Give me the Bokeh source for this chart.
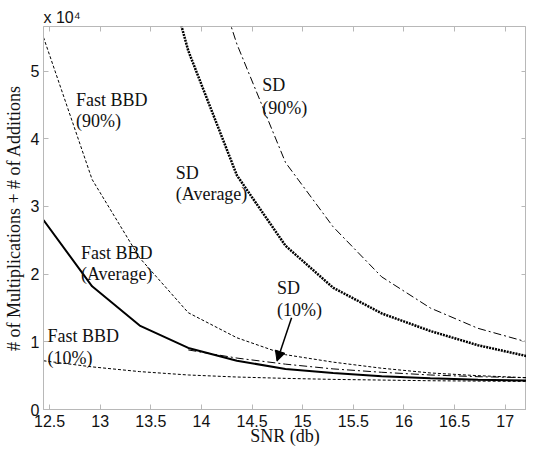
import numpy as np
from bokeh.plotting import figure
from bokeh.models import Range1d, LinearAxis, FixedTicker, Label, Arrow, NormalHead
from bokeh.embed import file_html
from bokeh.resources import INLINE

# ---------------- data ----------------
snr_db = [12.44, 12.92, 13.39, 13.87, 14.35, 14.83, 15.30, 15.78, 16.26, 16.73, 17.21]
nan = float("nan")
fast_bbd_avg = [28000, 18200, 12400, 9100, 7200, 6000, 5400, 4900, 4600, 4400, 4300]
fast_bbd_90 = [55000, 34000, 22400, 14300, 10600, 8100, 7000, 6100, 5400, 5000, 4700]
fast_bbd_10 = [7200, 6300, 5600, 5100, 4800, 4600, 4450, 4350, 4250, 4200, 4150]
sd_avg = [nan, nan, 79000, 53000, 34600, 24200, 18000, 14200, 11600, 9500, 7900]
sd_90 = [nan, nan, nan, 76000, 54000, 36500, 27000, 19600, 15000, 12000, 10000]
sd_10 = [nan, nan, nan, 8800, 7600, 6700, 6000, 5500, 5100, 4850, 4700]

x_ticks = [12.5, 13, 13.5, 14, 14.5, 15, 15.5, 16, 16.5, 17]
x_tick_labels = ["12.5", "13", "13.5", "14", "14.5", "15", "15.5", "16", "16.5", "17"]
y_ticks = [0, 10000, 20000, 30000, 40000, 50000]
y_tick_labels = ["0", "1", "2", "3", "4", "5"]

X_MIN, X_MAX = 12.44, 17.21
Y_MIN, Y_MAX = 0, 56600

# ---------------- figure ----------------
FRAME = "#b8b8b8"
SERIF = "Liberation Serif"
SANS = "Liberation Sans"

p = figure(width=526, height=448, output_backend="svg", toolbar_location=None,
           x_range=Range1d(X_MIN, X_MAX), y_range=Range1d(Y_MIN, Y_MAX),
           min_border=0, min_border_left=38, min_border_right=0, min_border_top=26,
           min_border_bottom=0)
p.xgrid.visible = False
p.ygrid.visible = False
p.outline_line_color = FRAME
p.background_fill_color = "white"
p.border_fill_color = "white"

p.title.text = "x 10\u2074"
p.title.align = "left"
p.title.text_font = SANS
p.title.text_font_size = "16px"
p.title.text_font_style = "normal"
p.title.text_color = "#111111"
p.title.standoff = 2


def style_axis(ax, ticks, labels, show_labels=True):
    ax.ticker = FixedTicker(ticks=ticks)
    ax.major_tick_in = 5
    ax.major_tick_out = 0
    ax.minor_tick_in = 0
    ax.minor_tick_out = 0
    ax.axis_line_color = FRAME
    ax.major_tick_line_color = FRAME
    ax.major_label_text_font = SANS
    if show_labels:
        ax.major_label_overrides = {t: l for t, l in zip(ticks, labels)}
        ax.major_label_text_font_size = "16px"
        ax.major_label_text_color = "#111111"
    else:
        ax.major_label_text_font_size = "0px"
        ax.major_label_text_color = None
        ax.major_label_standoff = 0


style_axis(p.xaxis[0], x_ticks, x_tick_labels)
style_axis(p.yaxis[0], y_ticks, y_tick_labels)
p.xaxis[0].major_label_standoff = 5
p.yaxis[0].major_label_standoff = 4

p.xaxis[0].axis_label = "SNR (db)"
p.yaxis[0].axis_label = "# of Multiplications + # of Additions"
for ax in (p.xaxis[0], p.yaxis[0]):
    ax.axis_label_text_font = SERIF
    ax.axis_label_text_font_size = "18px"
    ax.axis_label_text_font_style = "normal"
    ax.axis_label_text_color = "#111111"
p.xaxis[0].axis_label_standoff = -4
p.yaxis[0].axis_label_standoff = 4

# box ticks on the top and right edges (pinned, so they take no border space)
top_ax = LinearAxis(fixed_location=Y_MAX)
style_axis(top_ax, x_ticks, x_tick_labels, show_labels=False)
p.add_layout(top_ax, "above")
right_ax = LinearAxis(fixed_location=X_MAX)
style_axis(right_ax, y_ticks, y_tick_labels, show_labels=False)
p.add_layout(right_ax, "right")

# ---------------- curves ----------------
p.line(snr_db, fast_bbd_10, line_color="black", line_width=1, line_dash="3 2")
p.line(snr_db, fast_bbd_90, line_color="black", line_width=1, line_dash="3 2")
p.line(snr_db, sd_90, line_color="black", line_width=1, line_dash="8 3 2 3")
p.line(snr_db, sd_10, line_color="black", line_width=1, line_dash="8 3 2 3")
p.line(snr_db, sd_avg, line_color="black", line_width=2.5, line_dash="2 1")
p.line(snr_db, fast_bbd_avg, line_color="black", line_width=2)

# ---------------- annotations ----------------
annotations = [
    (12.76, 45700, "Fast BBD"), (12.76, 42600, "(90%)"),
    (14.60, 47900, "SD"), (14.60, 44500, "(90%)"),
    (13.746, 35000, "SD"), (13.746, 31800, "(Average)"),
    (12.81, 23200, "Fast BBD"), (12.81, 20000, "(Average)"),
    (14.746, 18000, "SD"), (14.746, 14740, "(10%)"),
    (12.48, 10900, "Fast BBD"), (12.48, 7630, "(10%)"),
]
for ax_, ay_, txt in annotations:
    p.add_layout(Label(x=ax_, y=ay_, text=txt, text_font=SERIF, text_font_size="18px",
                       text_baseline="middle", text_align="left", text_color="#111111"))

p.add_layout(Arrow(end=NormalHead(size=10, fill_color="black", line_color="black"),
                   x_start=14.89, y_start=13560, x_end=14.746, y_end=7140,
                   line_color="black", line_width=1.5))

open("out.html", "w").write(file_html(p, INLINE))
